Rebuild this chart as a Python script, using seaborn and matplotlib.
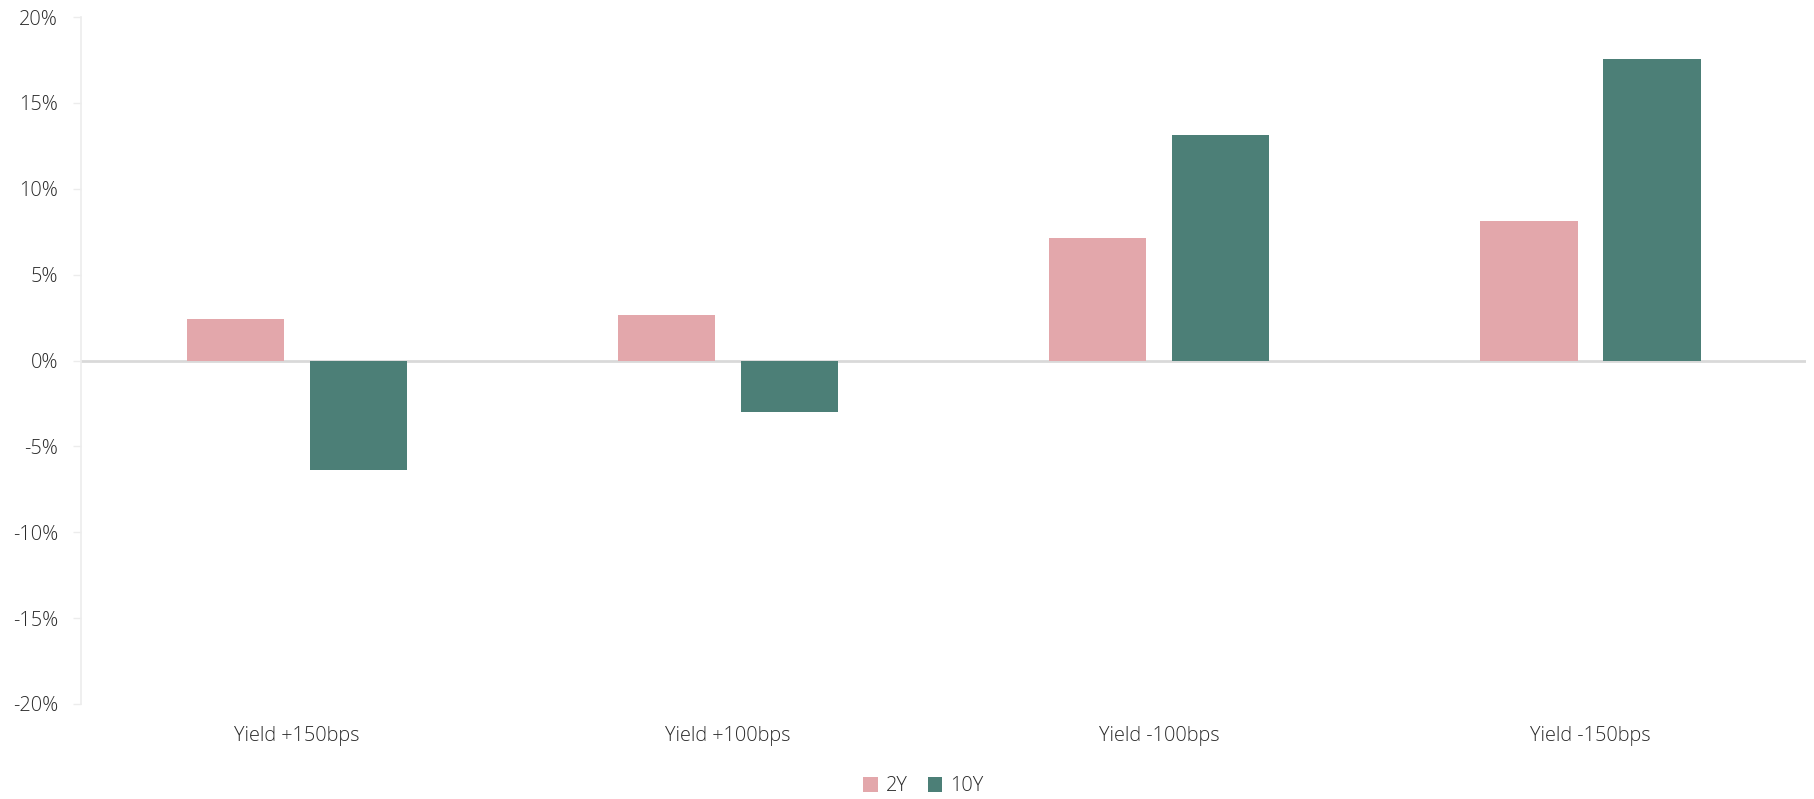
import matplotlib
matplotlib.use("Agg")
import matplotlib.pyplot as plt
import matplotlib.ticker as mticker
from matplotlib.patches import Patch
import pandas as pd
import seaborn as sns

# Price change of 2Y and 10Y bonds under parallel yield shifts
scenarios = ["Yield +150bps", "Yield +100bps", "Yield -100bps", "Yield -150bps"]
series = ["2Y", "10Y"]
values_2y = [2.42, 2.66, 7.13, 8.10]
values_10y = [-6.35, -2.98, 13.12, 17.58]
y_ticks = [-20, -15, -10, -5, 0, 5, 10, 15, 20]

colors = {"2Y": "#E3A7AB", "10Y": "#4C7F77"}
text_color = "#2b2b2b"

df = pd.DataFrame({
    "scenario": scenarios * 2,
    "series": ["2Y"] * len(scenarios) + ["10Y"] * len(scenarios),
    "value": values_2y + values_10y,
})

sns.set_theme(style="white")
plt.rcParams["font.family"] = ["Open Sans", "DejaVu Sans"]

fig = plt.figure(figsize=(18.14, 7.99), dpi=100)
ax = fig.add_axes([0.0449, 0.1189, 0.9507, 0.8598])

sns.barplot(
    data=df, x="scenario", y="value", hue="series",
    order=scenarios, hue_order=series, palette=colors,
    width=0.571, gap=0.21, linewidth=0, saturation=1,
    errorbar=None, legend=False, ax=ax,
)

ax.set_xlim(-0.5, len(scenarios) - 0.5)
ax.set_ylim(-20, 20)
ax.set_yticks(y_ticks)
ax.yaxis.set_major_formatter(mticker.FuncFormatter(lambda v, _: f"{v:.0f}%"))
ax.axhline(0, color="#d9d9d9", linewidth=2, zorder=0.5)

for side in ["top", "right", "bottom"]:
    ax.spines[side].set_visible(False)
ax.spines["left"].set_color("#ececec")
ax.spines["left"].set_linewidth(1.2)

ax.tick_params(axis="y", which="major", left=True, length=5.8, width=1,
               color="#ececec", pad=11, labelsize=14.3, labelcolor=text_color)
ax.tick_params(axis="x", which="major", bottom=False, length=0, pad=16,
               labelsize=14.3, labelcolor=text_color)
for lbl in ax.get_xticklabels() + ax.get_yticklabels():
    lbl.set_fontweight("light")

ax.set_xlabel("")
ax.set_ylabel("")

handles = [Patch(facecolor=colors[s], edgecolor="none", label=s) for s in series]
leg = fig.legend(
    handles=handles, loc="center", bbox_to_anchor=(0.509, 0.016), ncol=2,
    frameon=False, fontsize=14.3, handlelength=0.75, handleheight=0.75,
    handletextpad=0.4, columnspacing=1.0,
)
for t in leg.get_texts():
    t.set_color(text_color)
    t.set_fontweight("light")

fig.savefig("out.png", dpi=100)
